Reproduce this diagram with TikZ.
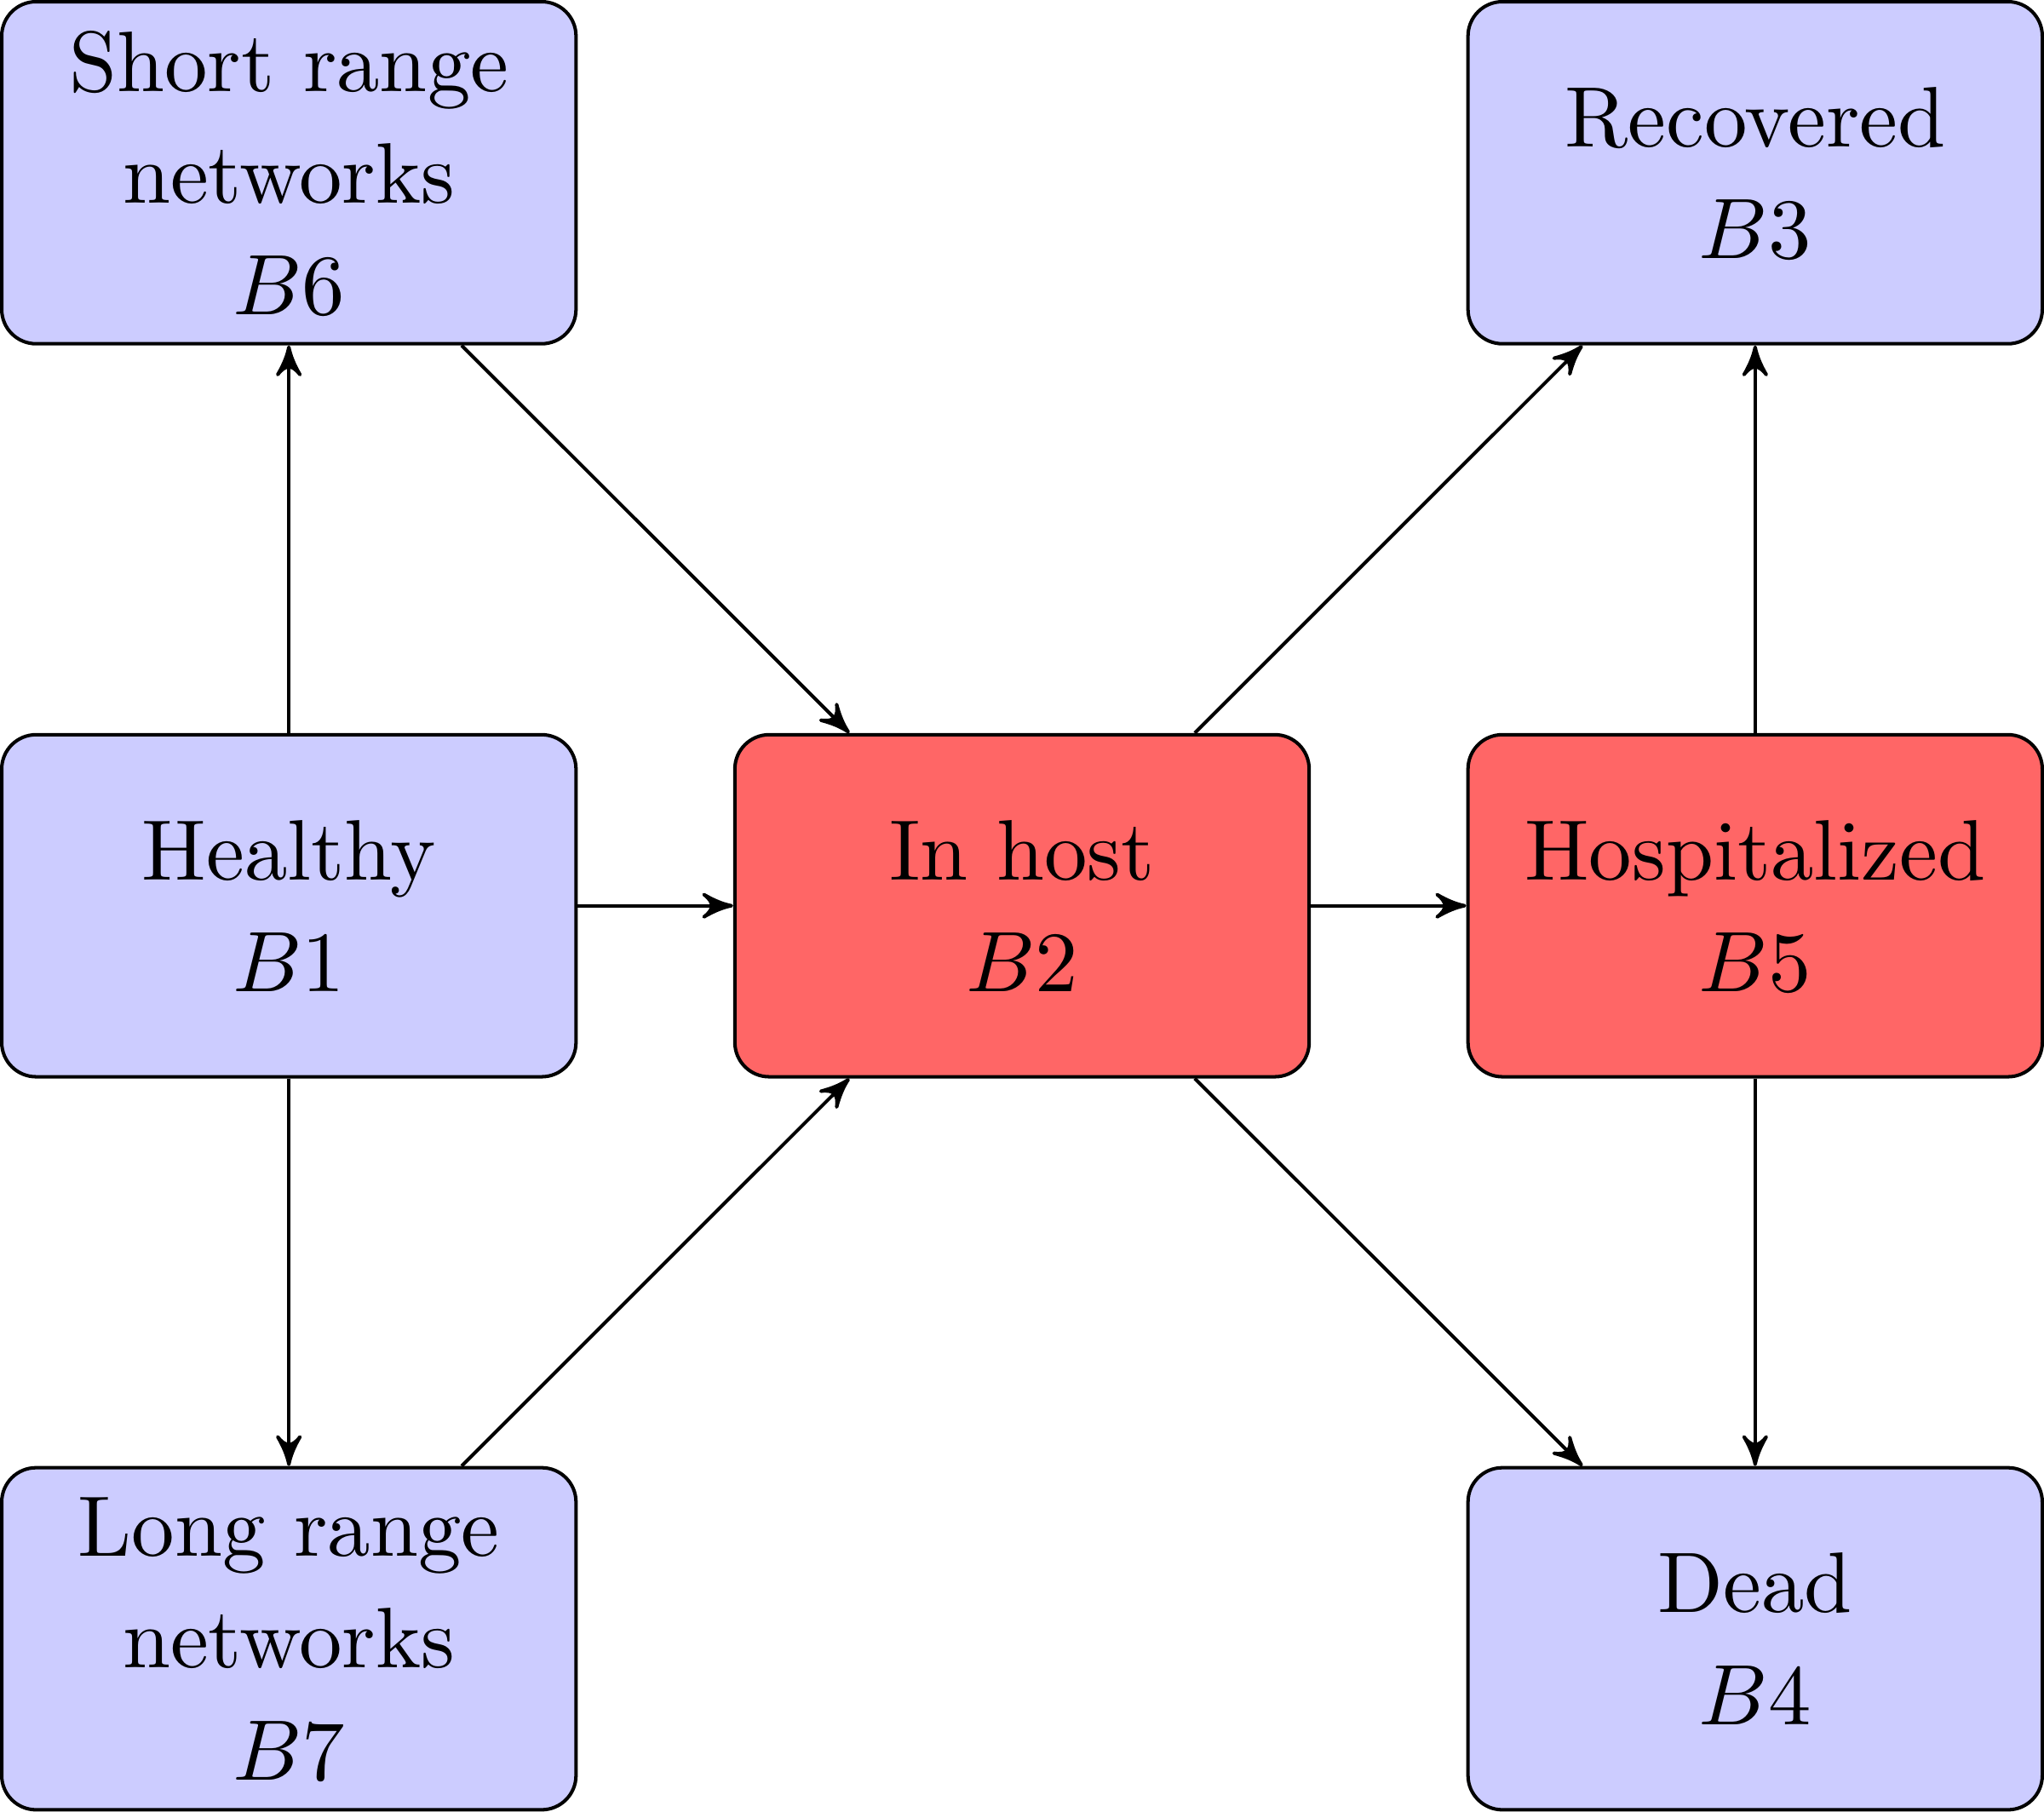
\documentclass[tikz,border=0pt]{standalone}
\usetikzlibrary{arrows}
\begin{document}
\begin{tikzpicture}[>=stealth',
  box/.style={draw, rounded corners=4pt, minimum width=2.35cm, minimum height=1.4cm, align=center,
    font=\fontsize{10pt}{13pt}\selectfont},
  cold/.style={box, fill=blue!20},
  hot/.style={box, fill=red!60}]
\node[cold] (b1) at (0,0) {Healthy\\$B1$};
\node[hot]  (b2) at (3,0) {In host\\$B2$};
\node[hot]  (b5) at (6,0) {Hospitalized\\$B5$};
\node[cold] (b6) at (0,3) {Short range\\networks\\$B6$};
\node[cold] (b3) at (6,3) {Recovered\\$B3$};
\node[cold] (b7) at (0,-3) {Long range\\networks\\$B7$};
\node[cold] (b4) at (6,-3) {Dead\\$B4$};
\draw[->] (b1) -- (b2);
\draw[->] (b2) -- (b5);
\draw[->] (b1) -- (b6);
\draw[->] (b1) -- (b7);
\draw[->] (b6) -- (b2);
\draw[->] (b7) -- (b2);
\draw[->] (b2) -- (b3);
\draw[->] (b2) -- (b4);
\draw[->] (b5) -- (b3);
\draw[->] (b5) -- (b4);
\end{tikzpicture}
\end{document}
